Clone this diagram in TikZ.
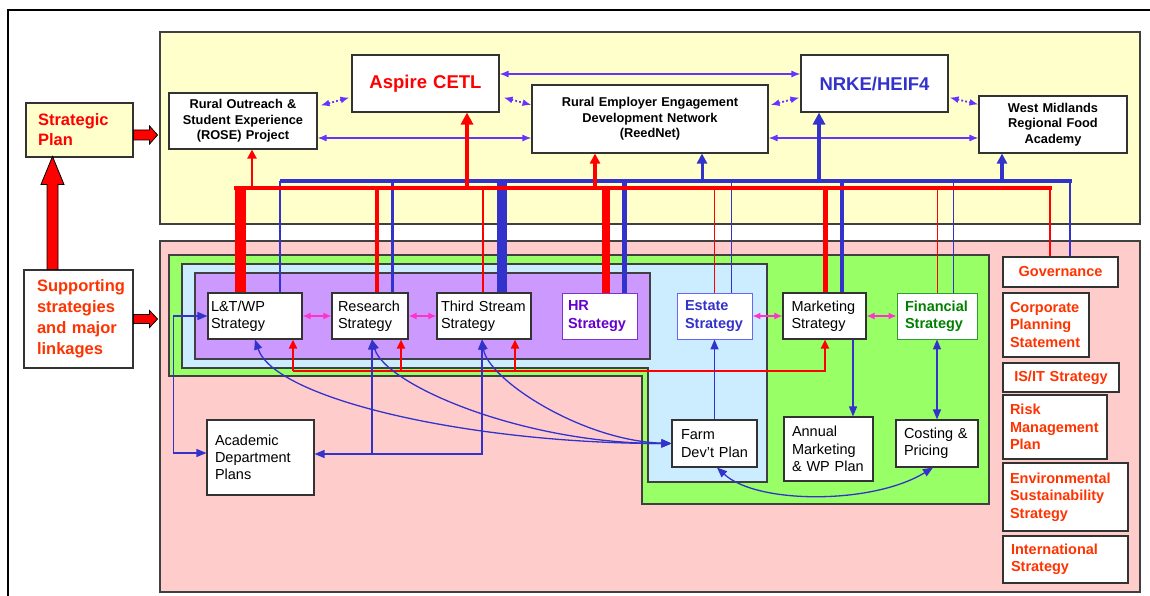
\documentclass[tikz,border=0pt]{standalone}
\usepackage{fontspec}
\setmainfont{Liberation Sans}
\usetikzlibrary{arrows.meta,calc,positioning}

\definecolor{bgyellow}{HTML}{FFFFCC}
\definecolor{bgpink}{HTML}{FFCCCC}
\definecolor{bggreen}{HTML}{99FF66}
\definecolor{bgblue}{HTML}{CCECFF}
\definecolor{bgpurple}{HTML}{CC99FF}
\definecolor{lnblue}{HTML}{3333CC}
\definecolor{lnviolet}{HTML}{6633FF}
\definecolor{lnpink}{HTML}{FF33CC}
\definecolor{txorange}{HTML}{FF3300}
\definecolor{txpurple}{HTML}{6600CC}
\definecolor{txgreen}{HTML}{008000}
\definecolor{hrborder}{HTML}{7F33CC}
\definecolor{estborder}{HTML}{6666FF}
\definecolor{finborder}{HTML}{339933}

\tikzset{
  box/.style={draw=black!80, fill=white, line width=1.1pt, inner ysep=0pt, align=left},
  topbox/.style={box, align=center, inner xsep=4pt, text width=140pt, font=\bfseries\fontsize{12.8}{15.5}\selectfont},
  bigbox/.style={box, align=center, inner xsep=4pt, text width=139pt, minimum height=57pt, font=\bfseries\fontsize{18.5}{22}\selectfont},
  stratbox/.style={box, minimum height=46pt, font=\fontsize{14.5}{17.3}\selectfont},
  boldstrat/.style={stratbox, line width=0.9pt, font=\bfseries\fontsize{14.5}{17.3}\selectfont},
  planbox/.style={box, font=\fontsize{14.5}{17.3}\selectfont},
  sidebox/.style={box, text=txorange, font=\bfseries\fontsize{14.5}{17.5}\selectfont},
  bgpanel/.style={draw=black!75, line width=1.1pt},
  blockarrow/.style={fill=red, draw=black, line width=0.8pt},
  blueline/.style={draw=lnblue, line width=1.3pt, >={Triangle[length=10pt,width=8pt]}},
  redline/.style={draw=red, line width=2pt, >={Triangle[length=9pt,width=8pt]}},
  linkarrow/.style={draw=lnpink, line width=1.3pt, >={Latex[length=8pt,width=7pt]}, <->},
  toparrow/.style={draw=lnviolet, line width=1.3pt, >={Latex[length=9pt,width=7pt]}, <->},
  dotarrow/.style={toparrow, line width=1.8pt, dash pattern=on 1.8pt off 2.2pt}
}

\begin{document}
\begin{tikzpicture}[x=1pt,y=-1pt]
\useasboundingbox (0,0) rectangle (1150,596);
\draw[line width=1.3pt] (8,596) -- (8,10) -- (1150,10);

% panels
\filldraw[bgpanel, fill=bgyellow] (160,32) rectangle (1140,224);
\filldraw[bgpanel, fill=bgpink] (160,241) rectangle (1140,592);
\filldraw[bgpanel, fill=bggreen] (169,255) -- (989,255) -- (989,504) -- (642,504) -- (642,376) -- (169,376) -- cycle;
\filldraw[bgpanel, fill=bgblue] (182,264) -- (767,264) -- (767,482) -- (648,482) -- (648,368) -- (182,368) -- cycle;
\filldraw[bgpanel, fill=bgpurple] (195,273) rectangle (650,359);

% left column
\node[box, fill=bgyellow, text=red, font=\bfseries\fontsize{16.5}{20}\selectfont, inner xsep=12pt, text width=83pt, minimum height=54pt] (sp) at (79.5,130) {Strategic\\Plan};
\node[box, text=txorange, font=\bfseries\fontsize{16.5}{21}\selectfont, inner xsep=13pt, text width=83pt, minimum height=98pt] (sup) at (78.5,319) {Supporting\\strategies\\and major\\linkages};

\filldraw[blockarrow] ([yshift=-5pt]sp.east) ++(0,-5) -- ++(16,0) -- ++(0,-4) -- ++(8,9) -- ++(-8,9) -- ++(0,-4) -- ++(-16,0) -- cycle;
\filldraw[blockarrow] (sup.east) ++(0,-4.5) -- ++(16,0) -- ++(0,-4) -- ++(8,8.5) -- ++(-8,8.5) -- ++(0,-4) -- ++(-16,0) -- cycle;
\filldraw[blockarrow] (sup.north) ++(-31.5,0) -- ++(0,-85) -- ++(-6,0) -- ++(11.5,-28) -- ++(11.5,28) -- ++(-6,0) -- ++(0,85) -- cycle;

% top row
\node[topbox, minimum height=56pt] (rose) at (243,121) {Rural Outreach \&\\Student Experience\\(ROSE) Project};
\node[bigbox, text=red] (aspire) at (425.5,83.5) {Aspire CETL};
\node[topbox, text width=228pt, minimum height=68pt] (reed) at (650,119) {Rural Employer Engagement\\Development Network\\(ReedNet)};
\node[bigbox, text=lnblue] (nrke) at (874.5,83.5) {NRKE/HEIF4};
\node[topbox, minimum height=57pt] (wm) at (1053,124.5) {West Midlands\\Regional Food\\Academy};

% strategies
\node[stratbox, inner xsep=3pt, text width=88pt] (lt) at (255,316) {L\&T/WP\\Strategy};
\node[stratbox, inner xsep=6pt, text width=64pt] (res) at (370,316) {Research\\Strategy};
\node[stratbox, inner xsep=4pt, text width=86pt] (third) at (484,316) {Third Stream\\Strategy};
\node[boldstrat, draw=hrborder, text=txpurple, inner xsep=6pt, text width=63pt] (hr) at (599.5,316) {HR\\Strategy};
\node[boldstrat, draw=estborder, text=lnblue, inner xsep=8pt, text width=59pt] (est) at (714.5,316) {Estate\\Strategy};
\node[stratbox, inner xsep=8.5pt, text width=66pt] (mkt) at (824.5,316) {Marketing\\Strategy};
\node[boldstrat, draw=finborder, text=txgreen, inner xsep=8pt, text width=64pt] (fin) at (937,316) {Financial\\Strategy};

% plans
\node[planbox, inner xsep=8pt, text width=91pt, minimum height=75pt] (acad) at (260.5,457.5) {Academic\\Department\\Plans};
\node[planbox, inner xsep=9pt, text width=67pt, minimum height=47pt] (farm) at (714.5,443.5) {Farm\\Dev't Plan};
\node[planbox, inner xsep=8pt, text width=73pt, minimum height=64pt] (annual) at (828.5,449) {Annual\\Marketing\\\& WP Plan};
\node[planbox, inner xsep=8pt, text width=66pt, minimum height=47pt] (cost) at (937,443.5) {Costing \&\\Pricing};

% right column
\node[sidebox, align=center, inner xsep=4pt, text width=107pt, minimum height=30pt] (gov) at (1060.5,272) {Governance};
\node[sidebox, inner xsep=7pt, text width=72pt, minimum height=64pt] (cps) at (1046,325) {Corporate\\Planning\\Statement};
\node[sidebox, align=center, inner xsep=4pt, text width=108pt, minimum height=29pt] (isit) at (1061,377.5) {IS/IT Strategy};
\node[sidebox, inner xsep=7pt, text width=90pt, minimum height=64pt] (risk) at (1055,427) {Risk\\Management\\Plan};
\node[sidebox, inner xsep=7pt, text width=111pt, minimum height=68pt] (env) at (1065.5,497) {Environmental\\Sustainability\\Strategy};
\node[sidebox, inner xsep=8pt, text width=109pt, minimum height=47pt] (intl) at (1065.5,559.5) {International\\Strategy};

% top links
\draw[dotarrow] ($(rose.north east)+(3,13)$) -- ($(aspire.south west)+(-2,-15)$);
\draw[dotarrow] ($(aspire.south east)+(4,-15)$) -- ($(reed.west)+(0,-14)$);
\draw[dotarrow] ($(reed.east)+(2,-14)$) -- ($(nrke.south west)+(-1,-15)$);
\draw[dotarrow] ($(nrke.south east)+(1,-15)$) -- ($(wm.north west)+(0,9)$);
\draw[toparrow] ([yshift=9.5pt]aspire.east) -- ([yshift=9.5pt]aspire.east -| nrke.west);
\draw[toparrow] ([yshift=-17pt]rose.east) -- ([yshift=-17pt]rose.east -| reed.west);
\draw[toparrow] ([yshift=-19pt]reed.east) -- ([yshift=-19pt]reed.east -| wm.west);

% buses
\coordinate (bbusW) at (280,181);
\coordinate (bbusE) at (1072,181);
\coordinate (rbusW) at (234,188);
\coordinate (rbusE) at (1052,188);
\draw[draw=lnblue, line width=3.5] (bbusW) -- (bbusE);
\foreach \n/\dx/\w in {lt/25/2, res/22/3, third/18/10, hr/24.5/5, est/16.5/1, mkt/17.5/4, fin/16/1, gov/9.5/1.2}
  \draw[draw=lnblue, line width=\w] ([xshift=\dx]\n.north |- bbusW) -- ([xshift=\dx]\n.north);
\foreach \n/\dx/\w/\h in {reed/52/3/10, nrke/-55.5/4.5/12, wm/-51/3.5/10}
  \draw[draw=lnblue, line width=\w, -{Triangle[length=\h pt,width=\h pt]}] ([xshift=\dx]\n.south |- bbusW) -- ([xshift=\dx]\n.south);
\draw[draw=red, line width=4.3] (rbusW) -- (rbusE);
\foreach \n/\dx/\w/\h in {lt/-15/11, res/7/4, third/-1/1.5, hr/6.5/8, est/-0.5/1, mkt/0.5/5, fin/0/1, gov/-10.5/1.2}
  \draw[draw=red, line width=\w] ([xshift=\dx]\n.north |- rbusW) -- ([xshift=\dx]\n.north);
\foreach \n/\dx/\w/\h in {rose/9/2.5/9, aspire/41.5/4/12, reed/-55/4/10}
  \draw[draw=red, line width=\w, -{Triangle[length=\h pt,width=\h pt]}] ([xshift=\dx]\n.south |- rbusW) -- ([xshift=\dx]\n.south);

% strategy links
\foreach \a/\b in {lt/res, res/third, est/mkt, mkt/fin}
  \draw[linkarrow] (\a.east) -- (\b.west);

% feedback to strategies
\coordinate (fb) at (0,371);
\draw[redline,->] ([xshift=38]lt.south |- fb) -- ([xshift=0.5]mkt.south |- fb) -- ([xshift=0.5]mkt.south);
\foreach \n/\dx in {lt/38, res/31, third/31}
  \draw[redline,->] ([xshift=\dx]\n.south |- fb) -- ([xshift=\dx]\n.south);

% plans links
\coordinate (dbus) at ($(acad.east)+(0,-3.5)$);
\draw[blueline,<->] (lt.west) -- ++(-34,0) |- ([yshift=4.5pt]acad.west);
\draw[blueline,<->] ([xshift=-2]third.south) -- ([xshift=-2]third.south |- dbus) -- (dbus);
\draw[blueline,<-] ([xshift=2]res.south) -- ([xshift=2]res.south |- dbus);
\draw[blueline,<->] (lt.south) .. controls +(20,60) and +(-200,0) .. (farm.west);
\draw[blueline,<->] ([xshift=2]res.south) .. controls +(13,45) and +(-150,0) .. (farm.west);
\draw[blueline,<->] ([xshift=-2]third.south) .. controls +(6,40) and +(-90,-3) .. (farm.west);
\draw[blueline,->] (farm.north) -- (est.south);
\draw[blueline,->] ([xshift=28.5]mkt.south) -- ([xshift=28.5]mkt.south |- annual.north);
\draw[blueline,<->] (fin.south) -- (cost.north);
\draw[blueline,<->] ([xshift=2.5]farm.south) .. controls +(40,37) and +(-60,37) .. ([xshift=-4]cost.south);
\end{tikzpicture}
\end{document}
